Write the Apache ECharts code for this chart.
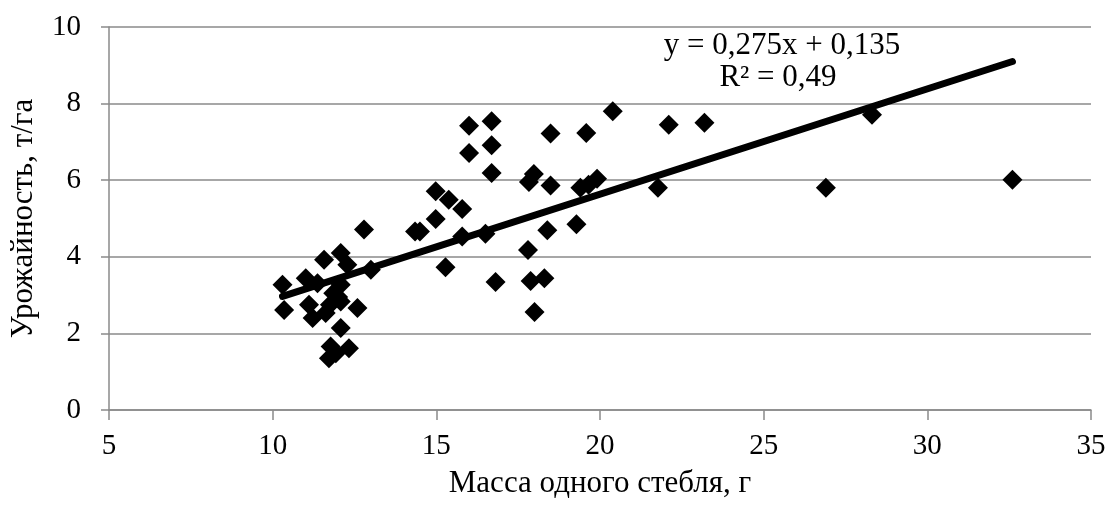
<!DOCTYPE html>
<html>
<head>
<meta charset="utf-8">
<script src="https://cdn.jsdelivr.net/npm/echarts@6/dist/echarts.min.js"></script>
<style>
html,body{margin:0;padding:0;background:#fff;}
#chart{width:1110px;height:506px;}
</style>
</head>
<body>
<div id="chart"></div>
<script>
// Масса одного стебля, г
const massValues = [
  10.30, 10.35, 11.01, 11.11, 11.22, 11.37, 11.57, 11.62, 11.75, 11.85,
  12.08, 12.28, 12.08, 12.08, 12.00, 12.59, 12.08, 11.77, 12.33, 11.72,
  11.93, 13.00, 12.79, 14.35, 14.50, 14.98, 14.98, 15.38, 15.79, 15.79,
  15.28, 16.00, 16.00, 16.69, 16.69, 16.69, 16.50, 16.81, 17.80, 17.88,
  18.30, 18.00, 18.39, 17.98, 17.83, 18.49, 18.49, 19.28, 19.40, 19.65,
  19.91, 19.58, 20.39, 21.77, 22.10, 23.19, 28.31, 26.90, 32.60
];
// Урожайность, т/га
const yieldValues = [
  3.27, 2.61, 3.44, 2.75, 2.40, 3.31, 3.92, 2.53, 2.75, 3.05,
  4.10, 3.79, 3.27, 2.83, 2.95, 2.66, 2.14, 1.66, 1.61, 1.35,
  1.48, 3.66, 4.71, 4.66, 4.66, 5.71, 4.99, 5.49, 5.25, 4.53,
  3.73, 7.42, 6.71, 7.54, 6.91, 6.19, 4.60, 3.34, 4.18, 3.37,
  3.44, 2.56, 4.69, 6.16, 5.95, 5.86, 7.22, 4.85, 5.80, 5.88,
  6.04, 7.23, 7.80, 5.80, 7.45, 7.50, 7.71, 5.80, 6.01
];
const xTicks = [5, 10, 15, 20, 25, 30, 35];
const yTicks = [0, 2, 4, 6, 8, 10];
const trendSlope = 0.275;
const trendIntercept = 0.135;
const equationText = 'y = 0,275x + 0,135';
const r2Text = 'R² = 0,49';
const xName = 'Масса одного стебля, г';
const yName = 'Урожайность, т/га';

const points = massValues.map((m, i) => [m, yieldValues[i]]);
const xMin = Math.min(...massValues);
const xMax = Math.max(...massValues);
const trendData = [
  [xMin, trendSlope * xMin + trendIntercept],
  [xMax, trendSlope * xMax + trendIntercept]
];

const font = 'Liberation Serif';
const gray = '#8a8a8a';
const chart = echarts.init(document.getElementById('chart'), null, {renderer: 'canvas'});
chart.setOption({
  animation: false,
  backgroundColor: '#fff',
  grid: {left: 108, right: 19, top: 27, bottom: 96},
  xAxis: {
    type: 'value', min: xTicks[0], max: xTicks[xTicks.length - 1], interval: 5,
    name: xName, nameLocation: 'middle', nameGap: 58,
    nameTextStyle: {fontFamily: font, fontSize: 31, color: '#000'},
    axisLine: {show: true, lineStyle: {color: gray, width: 1.5}},
    axisTick: {show: true, length: 10, lineStyle: {color: gray, width: 1.5}},
    axisLabel: {fontFamily: font, fontSize: 29, color: '#000', margin: 22},
    splitLine: {show: false}
  },
  yAxis: {
    type: 'value', min: yTicks[0], max: yTicks[yTicks.length - 1], interval: 2,
    name: yName, nameLocation: 'middle', nameGap: 70, nameRotate: 90,
    nameTextStyle: {fontFamily: font, fontSize: 31, color: '#000'},
    axisLine: {show: true, lineStyle: {color: gray, width: 1.5}},
    axisTick: {show: true, length: 8, lineStyle: {color: gray, width: 1.5}},
    axisLabel: {fontFamily: font, fontSize: 29, color: '#000', margin: 28},
    splitLine: {show: true, lineStyle: {color: gray, width: 1.5}}
  },
  series: [
    {
      type: 'scatter', data: points, symbol: 'diamond', symbolSize: 20,
      itemStyle: {color: '#000', opacity: 1}, z: 3
    },
    {
      type: 'line', data: trendData, showSymbol: false, symbol: 'none',
      lineStyle: {color: '#000', width: 7, cap: 'round'}, z: 4
    }
  ],
  graphic: [
    {type: 'text', x: 782, y: 46, style: {text: equationText, font: '31px "Liberation Serif"', fill: '#000', align: 'center', verticalAlign: 'middle'}},
    {type: 'text', x: 778, y: 78, style: {text: r2Text, font: '31px "Liberation Serif"', fill: '#000', align: 'center', verticalAlign: 'middle'}}
  ]
});
</script>
</body>
</html>
